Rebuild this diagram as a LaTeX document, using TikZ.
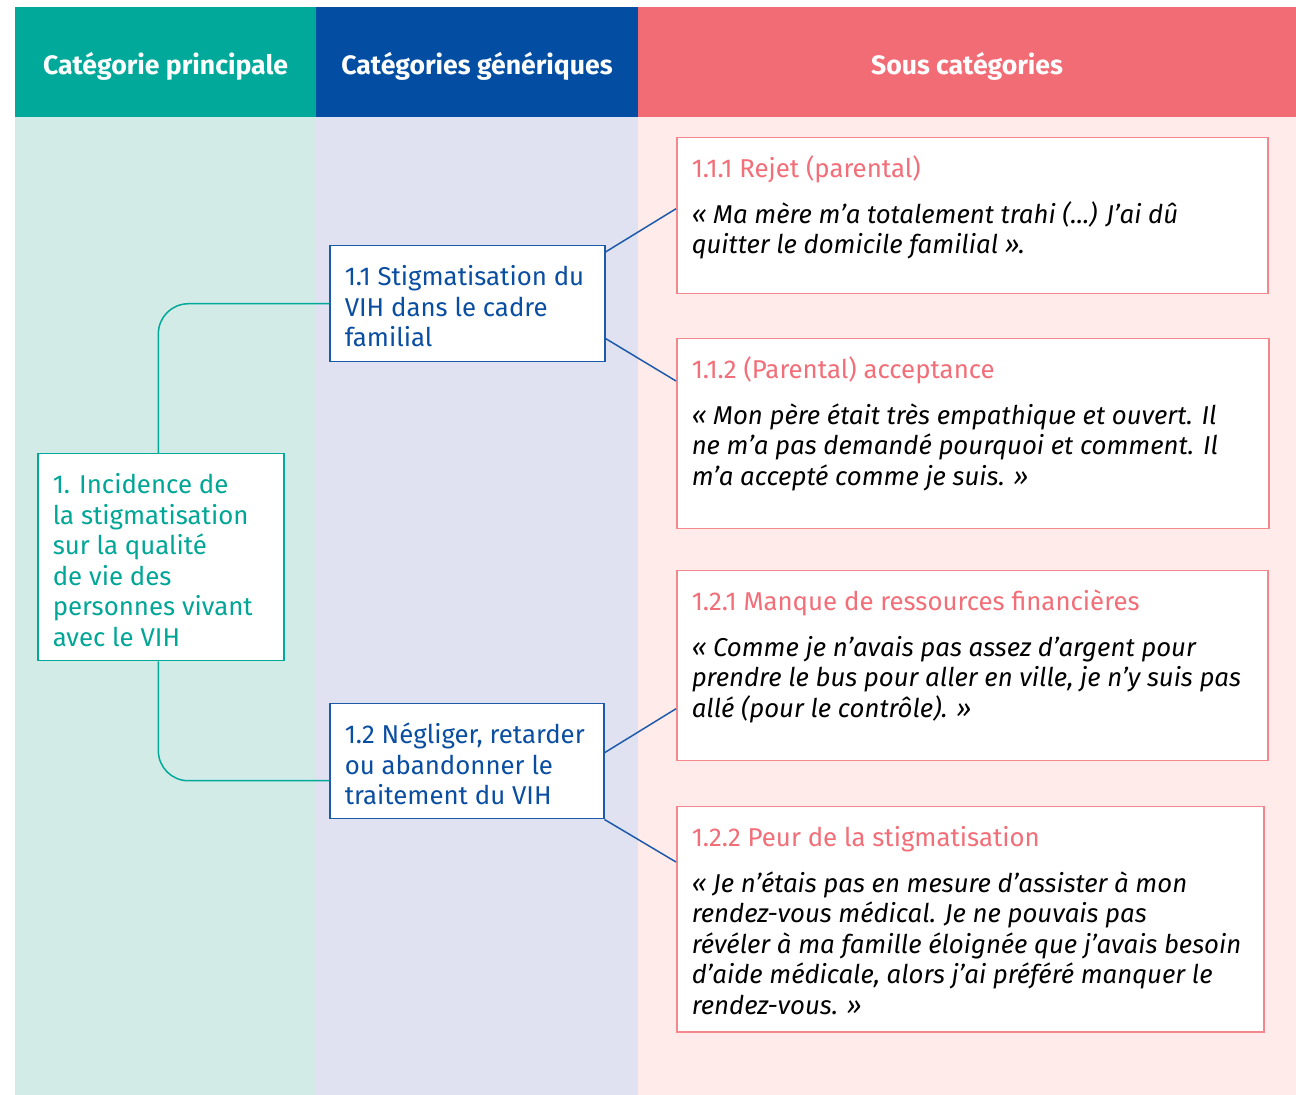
\documentclass[tikz,border=0pt]{standalone}
\usepackage{fontspec}
\setmainfont{Fira Sans}
\definecolor{hteal}{RGB}{0,169,154}
\definecolor{hblue}{RGB}{3,78,162}
\definecolor{hcoral}{RGB}{242,108,118}
\definecolor{bgteal}{RGB}{211,235,231}
\definecolor{bgblue}{RGB}{224,226,241}
\definecolor{bgcoral}{RGB}{255,236,234}
\definecolor{tteal}{RGB}{0,166,150}
\definecolor{bblue}{RGB}{30,90,170}
\definecolor{tblue}{RGB}{10,78,162}
\definecolor{bcoral}{RGB}{244,134,142}
\definecolor{tcoral}{RGB}{242,110,120}
% box content: height, width, first baseline, text
\newcommand{\cellbox}[4]{\parbox[c][#1][t]{#2}{\raggedright\rule{0pt}{#3}#4}}

\begin{document}
\begin{tikzpicture}[x=0.5pt,y=-0.5pt,
    head/.style={text=white,font=\bfseries\fontsize{13.3}{16}\selectfont,inner sep=0pt,minimum height=55pt,text height=15.5pt,text depth=3pt},
    cell/.style={draw,fill=white,line width=0.75pt,anchor=north west,inner xsep=7.5pt,inner ysep=0pt,font=\fontsize{12.9}{15.25}\selectfont},
    mainbox/.style={cell,draw=hteal,text=tteal},
    genbox/.style={cell,draw=bblue,text=tblue},
    subbox/.style={cell,draw=bcoral,text=black},
    tealline/.style={draw=hteal,line width=0.75pt,rounded corners=15pt},
    blueline/.style={draw=bblue,line width=0.75pt}]

\useasboundingbox (0,0) rectangle (1296,1095);

% Column backgrounds
\fill[bgteal] (15,117) rectangle (316,1095);
\fill[bgblue] (316,117) rectangle (638,1095);
\fill[bgcoral] (638,117) rectangle (1296,1095);

% Headers
\node[head,fill=hteal,minimum width=150.5pt] (h1) at (165.5,62) {Catégorie principale};
\node[head,fill=hblue,minimum width=161pt] (h2) at (477,62) {Catégories génériques};
\node[head,fill=hcoral,minimum width=329pt] (h3) at (967,62) {Sous catégories};

% Main category
\node[mainbox] (main) at (37,453) {\cellbox{103.5pt}{108pt}{20pt}{1. Incidence de\\
  la stigmatisation\\ sur la qualité\\ de vie des\\ personnes vivant\\ avec le VIH}};

% Generic categories
\node[genbox] (g11) at (329,245) {\cellbox{58pt}{122.5pt}{20pt}{1.1 Stigmatisation du\\
  VIH dans le cadre\\ familial}};
\node[genbox] (g12) at (329,703) {\cellbox{57.5pt}{122pt}{20pt}{1.2 Négliger, retarder\\
  ou abandonner le\\ traitement du VIH}};

% Sub categories
\node[subbox] (s111) at (676,137) {\cellbox{78pt}{280.5pt}{20pt}{{\color{tcoral}1.1.1 Rejet (parental)}\\[7.5pt]
  \itshape « Ma mère m’a totalement trahi (...) J’ai dû\\ quitter le domicile familial ».}};
\node[subbox] (s112) at (676,338) {\cellbox{95pt}{281pt}{20pt}{{\color{tcoral}1.1.2 (Parental) acceptance}\\[7.5pt]
  \itshape « Mon père était très empathique et ouvert. Il\\ ne m’a pas demandé pourquoi et comment. Il\\
  m’a accepté comme je suis. »}};
\node[subbox] (s121) at (676,570) {\cellbox{95pt}{280.5pt}{20pt}{{\color{tcoral}1.2.1 Manque de ressources financières}\\[7.5pt]
  \itshape « Comme je n’avais pas assez d’argent pour\\ prendre le bus pour aller en ville, je n’y suis pas\\
  allé (pour le contrôle). »}};
\node[subbox] (s122) at (676,806) {\cellbox{112.5pt}{278.5pt}{20pt}{{\color{tcoral}1.2.2 Peur de la stigmatisation}\\[7.5pt]
  \itshape « Je n’étais pas en mesure d’assister à mon\\ rendez-vous médical. Je ne pouvais pas\\
  révéler à ma famille éloignée que j’avais besoin\\ d’aide médicale, alors j’ai préféré manquer le\\
  rendez-vous. »}};

% Connections
\draw[tealline] (g11.west) -| ([xshift=-1.2pt]main.north);
\draw[tealline] ([xshift=-1.2pt]main.south) |- ([yshift=-9.75pt]g12.west);
\draw[blueline] ([yshift=-3.5pt]g11.north east) -- ([yshift=3.5pt]s111.west);
\draw[blueline] ([yshift=12pt]g11.south east) -- ([yshift=-21.5pt]s112.north west);
\draw[blueline] ([yshift=4.25pt]g12.east) -- ([yshift=-21.5pt]s121.west);
\draw[blueline] (g12.south east) -- ([yshift=-28pt]s122.north west);
\end{tikzpicture}
\end{document}
